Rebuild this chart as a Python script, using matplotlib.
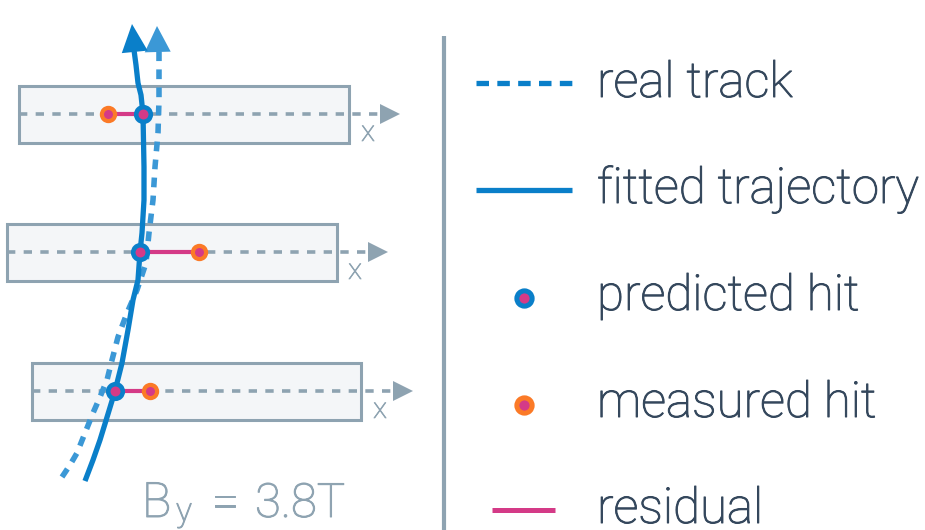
import matplotlib
matplotlib.use("Agg")
import matplotlib.pyplot as plt
import matplotlib.patheffects as pe
from matplotlib.patches import Rectangle, Polygon
import numpy as np

plt.rcParams['lines.scale_dashes'] = False
plt.rcParams['font.family'] = ['Roboto', 'DejaVu Sans']

# detector layers (canvas pixel units, y grows downward)
layer_y = [114, 252, 391]
layer_left = [19, 7, 32]
layer_right = [349, 337, 361]
layer_half_h = 28.5
axis_tip_x = [400, 388, 413]
axis_label_x = [368, 355, 380]

# hits on each layer
predicted_x = [143, 140, 115]
measured_x = [108, 199, 150]

# fitted trajectory, bottom to top (last point is the arrow tip)
fit_x = [85, 93, 100, 108, 115, 122, 128, 133, 138, 140, 142, 144, 144, 143, 141, 138, 136, 134, 132]
fit_y = [481, 460, 440, 414, 391, 363, 330, 300, 280, 252, 233, 200, 167, 114, 95, 83, 65, 50, 24]

# real (true) track, bottom to top
real_x = [62, 70, 77, 85, 93, 100, 107, 112, 118, 127, 137, 146, 149, 153, 155, 158, 159, 159, 157]
real_y = [477, 465, 453, 433, 413, 397, 380, 360, 337, 313, 290, 263, 233, 200, 167, 133, 100, 51, 26]

legend_labels = ["real track", "fitted trajectory", "predicted hit", "measured hit", "residual"]
legend_baseline = [97, 203, 310, 417, 523]

BLUE = "#0a7fc9"
BLUE_LIGHT = "#3b98d6"
ORANGE = "#fb7a27"
MAGENTA = "#d43a87"
GRAY = "#8ea3b1"
TEXT = "#34475c"
FILL = "#f4f6f8"

fig = plt.figure(figsize=(9.25, 5.30), dpi=100)
ax = fig.add_axes([0, 0, 1, 1])
ax.set_xlim(0, 925)
ax.set_ylim(530, 0)
ax.axis('off')


def arrow_head(ax, tip, base_from, length, half_w, color, z):
    tip = np.array(tip, float)
    d = tip - np.array(base_from, float)
    d /= np.hypot(*d)
    n = np.array([-d[1], d[0]])
    base = tip - d * length
    pts = [tip, base + n * half_w, base - n * half_w]
    ax.add_patch(Polygon(pts, closed=True, facecolor=color, edgecolor='none', zorder=z))


def heavier(color, w=0.7):
    return [pe.withStroke(linewidth=w, foreground=color)]


# layers with their local x axes
for yc, xl, xr, xt, xlab in zip(layer_y, layer_left, layer_right, axis_tip_x, axis_label_x):
    ax.add_patch(Rectangle((xl, yc - layer_half_h), xr - xl, 2 * layer_half_h,
                           facecolor=FILL, edgecolor=GRAY, lw=2.2, zorder=1))
    ax.plot([xl, xt - 18], [yc, yc], color=GRAY, lw=2.6, dashes=(6, 6), zorder=2,
            solid_capstyle='butt', dash_capstyle='butt')
    arrow_head(ax, (xt, yc), (xl, yc), 20, 10, GRAY, 2)
    ax.text(xlab, yc + 19, "x", color=GRAY, fontsize=21, fontweight='light',
            ha='center', va='center', zorder=2, path_effects=heavier(GRAY, 0.5))

# real track (dashed) with arrow
ax.plot(real_x[:-1], real_y[:-1], color=BLUE_LIGHT, lw=4.0, dashes=(7, 6),
        dash_capstyle='butt', zorder=3)
arrow_head(ax, (real_x[-1], real_y[-1]), (real_x[-3], real_y[-3]), 26, 13, BLUE_LIGHT, 3)

# fitted trajectory with arrow
ax.plot(fit_x[:-1], fit_y[:-1], color=BLUE, lw=3.8, solid_capstyle='butt', zorder=4)
arrow_head(ax, (fit_x[-1], fit_y[-1]), (fit_x[-3], fit_y[-3]), 28, 13, BLUE, 4)

# residuals and hits
for yc, px, mx in zip(layer_y, predicted_x, measured_x):
    ax.plot([mx, px], [yc, yc], color=MAGENTA, lw=3.0, zorder=5)
    ax.plot(mx, yc, 'o', ms=9.5, mfc=MAGENTA, mec=ORANGE, mew=3.0, zorder=6)
    ax.plot(px, yc, 'o', ms=10.5, mfc=MAGENTA, mec=BLUE, mew=3.3, zorder=7)

# field label B_y = 3.8T
label_kw = dict(color=GRAY, fontweight='light', va='baseline', path_effects=heavier(GRAY))
ax.text(142, 517, "B", fontsize=35, ha='left', **label_kw)
ax.text(176, 521, "y", fontsize=24, ha='left', **label_kw)
ax.text(225, 517, "=", fontsize=35, ha='center', **label_kw)
ax.text(255, 517, "3.8T", fontsize=34, ha='left', **label_kw)

# divider
ax.plot([444, 444], [36, 530], color=GRAY, lw=3.0, solid_capstyle='butt')

# legend
for lab, yb in zip(legend_labels, legend_baseline):
    ax.text(597, yb, lab, color=TEXT, fontsize=35.5, fontweight='light', va='baseline',
            ha='left', path_effects=heavier(TEXT))

ax.plot([476, 572], [83, 83], color=BLUE, lw=3.8, dashes=(9, 6), dash_capstyle='butt')
ax.plot([476, 572], [190, 190], color=BLUE, lw=3.8, solid_capstyle='butt')
ax.plot(524, 298, 'o', ms=11, mfc=MAGENTA, mec=BLUE, mew=3.6)
ax.plot(524, 405, 'o', ms=11, mfc=MAGENTA, mec=ORANGE, mew=3.6)
ax.plot([492, 555], [510, 510], color=MAGENTA, lw=3.6, solid_capstyle='butt')

fig.savefig("out.png", dpi=100)
